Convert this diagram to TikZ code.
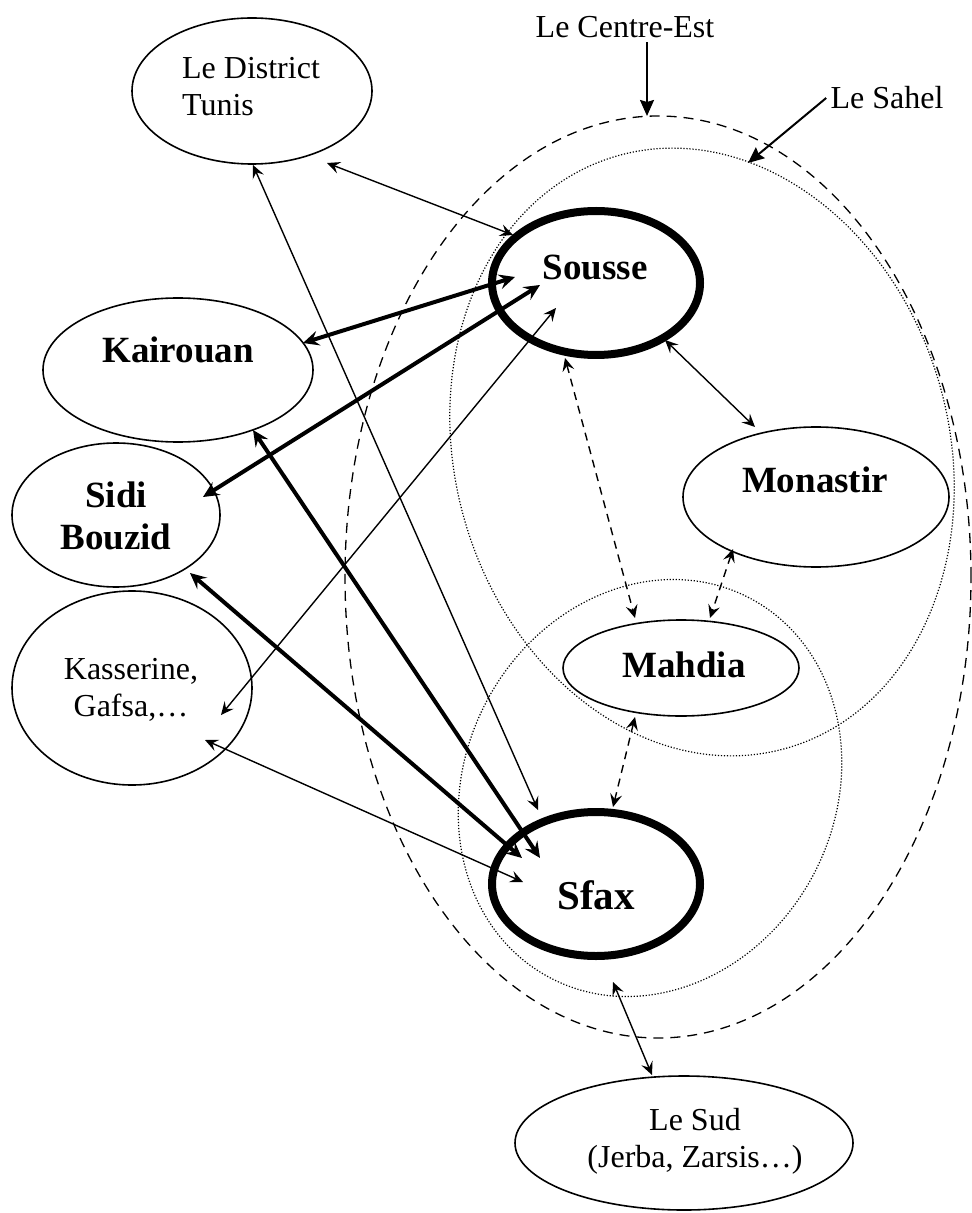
\documentclass[tikz,border=0pt]{standalone}
\usepackage{fontspec}
\setmainfont{Liberation Serif}
\usetikzlibrary{shapes, arrows.meta, calc, backgrounds}
\tikzset{%
  city/.style     = {draw, ellipse, line width=0.8pt, inner sep=0pt},
  pole/.style     = {draw, ellipse, line width=4pt, inner sep=0pt},
  region/.style   = {draw, ellipse, inner sep=0pt, line width=0.65pt},
  place/.style    = {font=\fontsize{16}{18.5}\selectfont, align=center, inner sep=2pt},
  bigname/.style  = {font=\fontsize{18.5}{21}\selectfont\bfseries, align=center},
  link/.style     = {draw, line width=0.7pt,
    {Stealth[length=6.5pt,width=6pt,inset=2.5pt]}-{Stealth[length=6.5pt,width=6pt,inset=2.5pt]}},
  strong/.style   = {draw, line width=2pt,
    {Stealth[length=8pt,width=7.5pt,inset=3pt]}-{Stealth[length=8pt,width=7.5pt,inset=3pt]}},
  dashlink/.style = {link, dash pattern=on 4pt off 3pt},
  pointer/.style  = {draw, line width=1pt, -{Stealth[length=8pt,width=7pt,inset=1pt]}}
}

\begin{document}
\begin{tikzpicture}[x=0.5pt, y=-0.5pt]

\useasboundingbox (0,0) rectangle (972,1213);

  % regions
  \begin{pgfonlayer}{background}
  \node [region, dash pattern=on 5pt off 3.5pt, minimum width=313pt,
    minimum height=461pt] (centre_est) at (658,577) {};
  \node [region, line width=0.6pt, dash pattern=on 0.6pt off 0.9pt,
    minimum width=247pt, minimum height=308pt, rotate=16] (sahel) at (702,452) {};
  \node [region, line width=0.6pt, dash pattern=on 0.6pt off 0.9pt,
    minimum width=185pt, minimum height=214.5pt, rotate=-27.7] (zone_sfax) at (650,788) {};
  \end{pgfonlayer}

  % cities
  \node [city, minimum width=120pt, minimum height=73pt] (tunis) at (252,91) {};
  \node [city, minimum width=135pt, minimum height=72pt] (kairouan) at (178,370) {};
  \node [city, minimum width=104pt, minimum height=72pt] (sidi_bouzid) at (116,515) {};
  \node [city, minimum width=120pt, minimum height=97pt] (kasserine) at (132,688) {};
  \node [pole, minimum width=104pt, minimum height=72pt] (sousse) at (596,283) {};
  \node [city, minimum width=133pt, minimum height=70pt] (monastir) at (816,497) {};
  \node [city, minimum width=118pt, minimum height=48pt] (mahdia) at (681,668) {};
  \node [pole, minimum width=104pt, minimum height=72pt] (sfax) at (596,884) {};
  \node [city, minimum width=169pt, minimum height=67pt] (sud) at (684,1143) {};

  \node [place, align=left] (tunis_t) at (251,87) {Le District\\Tunis};
  \node [bigname] (kairouan_t) at (178,350) {Kairouan};
  \node [bigname] (sidi_bouzid_t) at (116,516) {Sidi\\Bouzid};
  \node [place] (kasserine_t) at (131,690) {Kasserine,\\Gafsa,…};
  \node [bigname] (sousse_t) at (595,267) {Sousse};
  \node [bigname] (monastir_t) at (815,480) {Monastir};
  \node [bigname] (mahdia_t) at (684,665) {Mahdia};
  \node [bigname, font=\fontsize{20.5}{24}\selectfont\bfseries] (sfax_t) at (596,895) {Sfax};
  \node [place] (sud_t) at (695,1141) {Le Sud\\(Jerba, Zarsis…)};

  \node [place] (lbl_centre) at (625,27) {Le Centre-Est};
  \node [place] (lbl_sahel) at (887,98) {Le Sahel};

  % flows
  \draw [link]     ($(tunis)+(75,72)$)        -- ($(sousse)+(-83,-48)$);
  \draw [link]     ($(tunis)+(1,74)$)         -- ($(sfax)+(-58,-74)$);
  \draw [strong]   ($(kairouan)+(125,-27)$)   -- ($(sousse)+(-81,-6)$);
  \draw [strong]   ($(sidi_bouzid)+(87,-18)$) -- ($(sousse)+(-56,2)$);
  \draw [link]     ($(kasserine)+(89,27)$)    -- ($(sousse)+(-40,25)$);
  \draw [strong]   ($(kairouan)+(75,60)$)     -- ($(sfax)+(-56,-26)$);
  \draw [strong]   ($(sidi_bouzid)+(74,58)$)  -- ($(sfax)+(-74,-26)$);
  \draw [link]     ($(kasserine)+(73,52)$)    -- ($(sfax)+(-73,-2)$);
  \draw [link]     ($(sousse)+(69,57)$)       -- ($(monastir)+(-61,-70)$);
  \draw [link]     ($(sfax)+(17,98)$)         -- ($(sud)+(-32,-68)$);
  \draw [dashlink] ($(sousse)+(-31,75)$)      -- ($(mahdia)+(-46,-50)$);
  \draw [dashlink] ($(monastir)+(-83,52)$)    -- ($(mahdia)+(29,-50)$);
  \draw [dashlink] ($(mahdia)+(-46,49)$)      -- ($(sfax)+(17,-77)$);

  \draw [pointer] ($(lbl_centre.south)+(22,0)$) -- ($(centre_est)+(-11,-461)$);
  \draw [pointer] (lbl_sahel.west) -- ($(sahel)+(46,-289)$);

\end{tikzpicture}
\end{document}
